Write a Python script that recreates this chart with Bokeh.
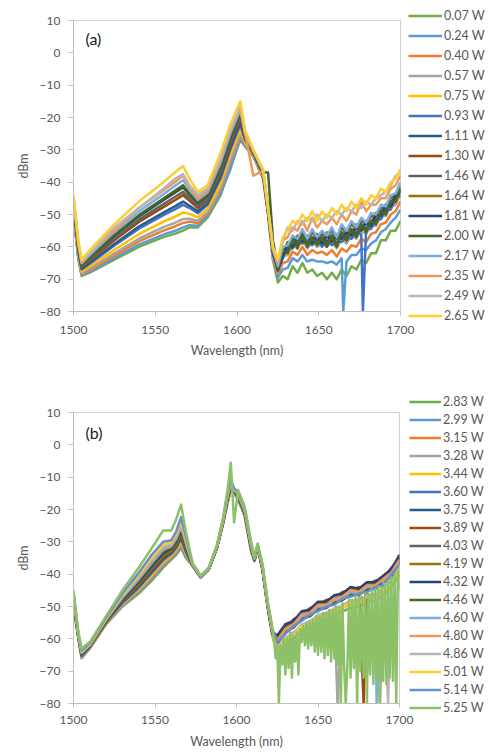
from bokeh.plotting import figure
from bokeh.models import Legend, LegendItem, Label, Range1d, FixedTicker
from bokeh.layouts import column
from bokeh.embed import file_html
from bokeh.resources import INLINE

FONT = "Lato"
TXT = "#595959"
AXIS = "#BFBFBF"

X_TICKS = [1500, 1550, 1600, 1650, 1700]
Y_TICKS = [-80, -70, -60, -50, -40, -30, -20, -10, 0, 10]

# ---------------- panel (a) ----------------
WL_A = [1500, 1503, 1505, 1510, 1525, 1540, 1555, 1562, 1567, 1571, 1576, 1582, 1590, 1596,
        1602, 1605, 1610, 1616, 1619, 1622,
        1625, 1628, 1631, 1634, 1637, 1640, 1643, 1646, 1649, 1652, 1655, 1658, 1661, 1664,
        1667, 1670, 1673, 1676, 1679, 1682, 1685, 1688, 1691, 1694, 1697, 1700]

LABELS_A = ["0.07 W", "0.24 W", "0.40 W", "0.57 W", "0.75 W", "0.93 W", "1.11 W", "1.30 W",
            "1.46 W", "1.64 W", "1.81 W", "2.00 W", "2.17 W", "2.35 W", "2.49 W", "2.65 W"]
COLORS_A = ["#70AD47", "#5B9BD5", "#ED7D31", "#A5A5A5", "#FFC000", "#4472C4", "#255E91", "#9E480E",
            "#636363", "#997300", "#264478", "#43682B", "#7CAFDD", "#F1975A", "#B7B7B7", "#FFCD33"]

A_007 = [-50, -64, -69, -68, -64, -60, -57, -56, -55, -54, -54, -51, -44, -35, -27, -29, -32, -39, -50, -64,
         -71, -69, -70, -66, -68, -65, -68, -67, -69, -68, -70, -68, -70, -67, -69, -66, -67, -64, -65, -62,
         -62, -58, -58, -55, -55, -52]
A_024 = [-49.7, -63.7, -68.8, -67.7, -63.5, -59.3, -56.2, -55.1, -54, -53.3, -53.5, -50.5, -43.4, -36, -26.4,
         -28.8, -31.9, -38.9, -49.9, -63.8,
         -69.5, -67, -66.5, -63.5, -64.5, -62.5, -64.5, -64, -64.5, -64.5, -65, -64.5, -65.5, -63.5, -64.5,
         -62.5, -62.5, -60.5, -61, -59, -58, -55.5, -54.5, -52.5, -51, -48.5]
A_040 = [-49.3, -63.3, -68.4, -67.2, -62.7, -58.3, -55, -53.7, -52.6, -52.2, -52.7, -49.8, -42.4, -33.4, -25.6,
         -28.4, -31.8, -38.6, -49.8, -63.5,
         -68.5, -65, -64.5, -61.5, -62.5, -60, -62.5, -61, -62, -61.5, -62.5, -61, -63, -60.5, -61.5, -59.5,
         -60, -57.5, -58.5, -56, -55.5, -53, -52.5, -50, -49, -46]
A_057 = [-48.9, -62.9, -68.1, -66.7, -62, -57.5, -53.9, -52.6, -51.4, -51.3, -52, -49.2, -41.7, -32.7, -24.8,
         -28.1, -31.6, -38.5, -49.6, -63.3,
         -68, -63, -62.5, -59.5, -60.5, -58, -60.5, -58.5, -60, -59, -60, -58.5, -60.5, -57.5, -59, -56.5,
         -57.5, -55, -56, -53.5, -53.5, -50.5, -50.5, -47.5, -47, -44]
A_075 = [-48.3, -62.3, -67.6, -66, -60.9, -56.1, -52.2, -50.7, -49.4, -49.8, -50.9, -48.2, -40.4, -31.4, -23.6,
         -27.6, -31.4, -38.2, -49.4, -62.9,
         -67, -63, -62, -60, -60, -58.5, -59.5, -58.5, -59.5, -58.5, -59.5, -58, -59.5, -57.5, -58, -56,
         -56.5, -55, -55, -53, -52.5, -50.5, -49.5, -47.5, -46, -43.5]
A_093 = [-47.6, -61.6, -67, -65.2, -59.6, -54.4, -50.2, -48.4, -47, -48, -49.6, -47, -38.8, -29.8, -22.2,
         -27, -31.2, -37.8, -49.2, -62.4,
         -67, -63.5, -60.5, -60.5, -58.5, -59, -58.5, -59.5, -58, -60, -58, -59.5, -58.5, -58.5, -57, -57.5,
         -55.5, -56, -54, -54.5, -51.5, -51.5, -48.5, -48.5, -45, -44]
A_111 = [-47.3, -61.3, -66.8, -64.9, -59.1, -53.7, -49.4, -47.5, -46, -47.3, -49, -46.5, -38.2, -29.2, -21.6,
         -26.8, -31.1, -37.7, -49.1, -62.2,
         -66.5, -62, -61, -58.5, -59, -57, -59, -57, -58.5, -57.5, -58.5, -56.5, -59, -56, -57, -55,
         -56, -53.5, -54.5, -52, -52, -49, -49, -46, -45.5, -42]
A_130 = [-46.7, -60.7, -66.3, -64.2, -58, -52.3, -47.7, -45.6, -44, -45.8, -48, -45.5, -36.9, -27.9, -20.4,
         -26.3, -30.9, -37.4, -48.9, -61.8,
         -67.5, -62, -61.5, -58.5, -59.5, -57, -59.5, -57.5, -59, -58, -59, -57, -59.5, -56, -58, -55,
         -56.5, -54, -55, -52.5, -52.5, -49.5, -49.5, -46.5, -46, -42.5]
A_146 = [-46.4, -60.4, -66, -63.8, -57.4, -51.6, -46.8, -44.6, -43, -45, -47.4, -45, -36.2, -27.2, -19.8,
         -26, -30.8, -37.2, -48.8, -61.6,
         -66.5, -61, -60, -57, -58, -55.5, -58, -55.5, -57.5, -56, -57, -55, -57.5, -54, -56, -53,
         -54.5, -52, -53, -50.5, -50.5, -48, -48, -45, -44, -41]
A_164 = [-46, -60, -65.7, -63.3, -56.6, -50.6, -45.6, -43.3, -41.6, -44, -46.6, -44.3, -35.3, -26.3, -19,
         -25.7, -30.7, -37, -48.7, -61.3,
         -66, -62.5, -58.5, -59, -56.5, -57.5, -56.5, -58, -56, -58.5, -55.5, -57.5, -56, -56.5, -54.5, -55.5,
         -53, -54.5, -52, -52.5, -49.5, -50, -47, -47, -43.5, -42.5]
A_181 = [-45.9, -59.9, -65.6, -63.2, -56.5, -50.5, -45.4, -43.1, -41.4, -43.8, -46.5, -44.2, -35.2, -26.2, -18.8,
         -25.6, -30.6, -37, -48.6, -61.3,
         -67, -63, -59, -60, -57, -58.5, -57, -59, -56.5, -59, -56.5, -58.5, -56.5, -57.5, -55.5, -56.5,
         -54, -55, -52.5, -53.5, -50, -50.5, -47, -47.5, -44, -43]
A_200 = [-45.8, -59.8, -65.5, -63.1, -56.3, -50.2, -45.1, -42.7, -41, -43.5, -46.3, -44, -34.9, -25.9, -18.6,
         -25.5, -30.6, -36.9, -37, -58,
         -67, -61, -62, -57, -60.5, -56, -60, -57, -59.5, -57, -60, -56.5, -60, -55.5, -58, -54.5,
         -57, -53, -55.5, -52, -53, -49, -50, -46, -46, -42]
A_217 = [-45.3, -59.3, -65.1, -62.5, -55.4, -49.1, -43.7, -41.2, -39.4, -42.3, -45.4, -43.2, -33.9, -24.9, -17.6,
         -25.1, -30.4, -36.7, -48.4, -60.9,
         -66, -60, -59.5, -56.5, -57.5, -54.5, -57.5, -54.5, -57, -55, -56.5, -54, -57, -53, -55, -52,
         -54, -51, -52.5, -49.5, -50, -47, -47.5, -44, -43.5, -40]
A_235 = [-45, -59, -65, -62, -55, -48, -42.5, -40, -38, -41.5, -45, -42.5, -33, -24, -17,
         -25, -38, -36.5, -48.3, -60.6,
         -65, -58, -57, -54, -55, -52, -55, -51, -54, -52, -53, -51, -53, -50, -52, -49,
         -50, -46, -49, -47, -47, -45, -45, -42, -41, -38]
A_249 = [-45, -59, -64.5, -62, -54, -48, -42, -39, -37.5, -41, -44, -42, -32.5, -23.5, -16.5,
         -25, -30, -36.5, -48, -60.5,
         -64.5, -58, -54, -55, -52, -53, -51, -52, -50, -52, -50, -51, -49, -50, -48, -49,
         -47, -48, -46, -47, -45, -44, -43, -41, -38, -37]
A_265 = [-44, -58, -64, -61, -53, -46, -40, -37, -35, -39, -43, -41, -31, -22, -15,
         -24, -30, -36, -48, -60,
         -64, -57, -55, -52, -53, -50, -52, -49, -52, -49, -51, -48, -50, -47, -49, -46,
         -48, -45, -47, -44, -45, -42, -43, -40, -39, -36]

SPIKES_A = {"0.24 W": [(1665, -80)], "0.93 W": [(1677, -80)]}

# ---------------- panel (b) ----------------
WL_B = [1500, 1503, 1505, 1510, 1520, 1530, 1540, 1548, 1555, 1560, 1563, 1566, 1569, 1573, 1578,
        1583, 1588, 1592, 1594.5, 1596.5, 1598.5, 1601, 1605, 1609, 1611, 1613, 1616, 1619, 1622,
        1625, 1630, 1635, 1640, 1645, 1650, 1655, 1660, 1665, 1670, 1675, 1680, 1685, 1690, 1695, 1700]
WL_B_SMOOTH = WL_B[:29]
WL_B_DENSE = list(range(1623, 1701))

LABELS_B = ["2.83 W", "2.99 W", "3.15 W", "3.28 W", "3.44 W", "3.60 W", "3.75 W", "3.89 W", "4.03 W",
            "4.19 W", "4.32 W", "4.46 W", "4.60 W", "4.80 W", "4.86 W", "5.01 W", "5.14 W", "5.25 W"]
COLORS_B = ["#70AD47", "#5B9BD5", "#ED7D31", "#A5A5A5", "#FFC000", "#4472C4", "#255E91", "#9E480E",
            "#636363", "#997300", "#264478", "#43682B", "#7CAFDD", "#F1975A", "#B7B7B7", "#FFCD33",
            "#698ED0", "#8CC168"]

B_283 = [-50, -60, -66, -63, -55.5, -50, -46, -42, -38, -35.5, -34, -32, -35, -37.5, -41, -38.5, -32, -24,
         -18, -14, -15, -17, -22, -33, -36, -32, -39, -50, -59,
         -65, -62, -60, -58, -56.5, -55, -54, -53, -51.5, -50.5, -50, -49, -48, -47, -44, -40]
B_299 = [-49.8, -59.9, -65.9, -62.9, -55.4, -49.8, -45.6, -41.5, -37.5, -35.1, -33.6, -31.4, -34.6, -37.5, -41,
         -38.5, -32, -23.9, -17.8, -13.8, -14.9, -16.9, -21.9, -32.9, -35.9, -31.9, -38.9, -49.9, -58.9,
         -61, -58, -56, -54, -52.5, -51, -50, -49, -47.5, -46.5, -46, -45, -44, -43, -40, -36]
B_315 = [-49.5, -59.8, -65.7, -62.8, -55.3, -49.5, -45.2, -41, -37, -34.8, -33.1, -30.8, -34.2, -37.4, -41,
         -38.5, -31.9, -23.8, -17.6, -13.6, -14.8, -16.7, -21.7, -32.7, -35.9, -31.9, -38.8, -49.8, -58.8,
         -61.5, -58, -56.5, -53.5, -53, -50.5, -50.5, -48.5, -48, -46, -46.5, -44.5, -44.5, -42.5, -40.5, -36.5]
B_328 = [-49.3, -59.7, -65.6, -62.7, -55.2, -49.3, -44.9, -40.6, -36.6, -34.5, -32.7, -30.3, -33.9, -37.4, -40.9,
         -38.4, -31.9, -23.7, -17.4, -13.4, -14.7, -16.6, -21.6, -32.6, -35.8, -31.8, -38.7, -49.7, -58.7,
         -63, -60, -58, -56, -54.5, -53, -52, -51, -49.5, -48.5, -48, -47, -46, -45, -42, -38]
B_344 = [-49.1, -59.6, -65.5, -62.6, -55.1, -49.1, -44.6, -40.2, -36.2, -34.2, -32.4, -29.8, -33.6, -37.3, -40.9,
         -38.4, -31.8, -23.6, -17.3, -13.3, -14.6, -16.5, -21.5, -32.5, -35.7, -31.7, -38.6, -49.6, -58.6,
         -64, -61, -59, -57, -55.5, -54, -53, -52, -50.5, -49.5, -49, -48, -47, -46, -43, -39]
B_360 = [-48.9, -59.5, -65.3, -62.5, -54.9, -48.9, -44.2, -39.7, -35.7, -33.8, -31.9, -29.2, -33.2, -37.3, -40.9,
         -38.4, -31.8, -23.5, -17.1, -13.1, -14.5, -16.3, -21.3, -32.3, -35.7, -31.7, -38.5, -49.5, -58.4,
         -60.5, -57.5, -55.5, -53.5, -52, -50.5, -49.5, -48.5, -47, -46, -45.5, -44.5, -43.5, -42.5, -39.5, -35.5]
B_375 = [-48.6, -59.4, -65.2, -62.4, -54.8, -48.6, -43.8, -39.2, -35.2, -33.4, -31.5, -28.6, -32.8, -37.2, -40.9,
         -38.4, -31.7, -23.4, -16.9, -12.9, -14.4, -16.2, -21.2, -32.2, -35.6, -31.6, -38.4, -49.4, -58.3,
         -60, -57, -55, -53, -51.5, -50, -49, -48, -46.5, -45.5, -45, -44, -43, -42, -39, -35]
B_389 = [-48.4, -59.4, -65, -62.4, -54.7, -48.4, -43.4, -38.8, -34.8, -33.1, -31.1, -28.2, -32.4, -37.2, -40.8,
         -38.3, -31.7, -23.4, -16.7, -12.7, -14.4, -16, -21, -32, -35.5, -31.5, -38.4, -49.4, -58.2,
         -59.5, -56.5, -54, -52.5, -50.5, -49.5, -48, -47.5, -45.5, -45, -44, -43.5, -42, -41.5, -38, -35]
B_403 = [-48.2, -59.3, -64.9, -62.3, -54.6, -48.2, -43, -38.3, -34.3, -32.7, -30.7, -27.6, -32, -37.1, -40.8,
         -38.3, -31.6, -23.3, -16.5, -12.5, -14.3, -15.9, -20.9, -31.9, -35.4, -31.4, -38.3, -49.3, -58.1,
         -61, -57.5, -56.5, -54, -52.5, -51, -50.5, -48.5, -47.5, -46.5, -46, -44.5, -44, -43, -40, -36]
B_419 = [-48, -59.2, -64.8, -62.2, -54.5, -48, -42.8, -38, -34, -32.5, -30.4, -27.2, -31.8, -37.1, -40.8,
         -38.3, -31.6, -23.2, -16.4, -12.4, -14.2, -15.8, -20.8, -31.8, -35.4, -31.4, -38.2, -49.2, -58,
         -60, -56, -55, -52, -51.5, -49, -49, -47, -46.5, -44.5, -45, -43, -43, -41, -39, -35]
B_432 = [-47.8, -59.1, -64.7, -62.1, -54.4, -47.8, -42.4, -37.5, -33.5, -32.1, -30, -26.6, -31.4, -37.1, -40.8,
         -38.3, -31.6, -23.1, -16.2, -12.2, -14.1, -15.7, -20.7, -31.7, -35.3, -31.3, -38.1, -49.1, -57.9,
         -59, -55.5, -54.5, -51.5, -51, -48.5, -48.5, -46.5, -46, -44, -44.5, -42.5, -42.5, -40.5, -38.5, -34]
B_446 = [-47.5, -59, -64.5, -62, -54.3, -47.5, -42, -37, -33, -31.8, -29.5, -26, -31, -37, -40.8,
         -38.3, -31.5, -23, -16, -12, -14, -15.5, -20.5, -31.5, -35.3, -31.3, -38, -49, -57.8,
         -61.5, -58, -56, -54, -53, -51, -50, -49, -48, -46.5, -46, -45, -44.5, -43, -40.5, -36]
B_460 = [-47.3, -58.9, -64.4, -61.9, -54.1, -47.3, -41.6, -36.5, -32.5, -31.4, -29.1, -25.4, -30.6, -37, -40.7,
         -38.2, -31.5, -22.9, -15.8, -11.8, -13.9, -15.4, -20.4, -31.4, -35.2, -31.2, -37.9, -48.9, -57.6,
         -61, -57, -56, -53, -52.5, -50, -50, -48, -47.5, -45.5, -46, -44, -44, -42, -40, -36]
B_480 = [-46.9, -58.8, -64.1, -61.8, -54, -46.9, -41, -35.8, -31.8, -30.9, -28.4, -24.6, -30, -36.9, -40.7,
         -38.2, -31.4, -22.8, -15.5, -11.5, -13.8, -15.1, -20.1, -31.1, -35.1, -31.1, -37.8, -48.8, -57.5,
         -60.5, -57, -55.5, -52.5, -52, -49.5, -49.5, -47.5, -47, -45, -45.5, -43.5, -43.5, -41.5, -39.5, -35.5]
B_486 = [-46.7, -58.7, -64, -61.7, -53.8, -46.7, -40.6, -35.3, -31.3, -30.5, -28, -24, -29.6, -36.8, -40.7,
         -38.2, -31.3, -22.7, -15.3, -11.3, -13.7, -15, -20, -31, -35, -31, -37.7, -48.7, -57.3,
         -63.5, -59.5, -58.5, -55.5, -55, -52.5, -52.5, -50.5, -50, -48, -48.5, -46.5, -46.5, -44.5, -42.5, -38]
B_501 = [-46.4, -58.6, -63.8, -61.6, -53.7, -46.4, -40.2, -34.8, -30.8, -30.1, -27.5, -23.4, -29.2, -36.8, -40.6,
         -38.1, -31.3, -22.6, -15.1, -11.1, -13.6, -14.8, -19.8, -30.8, -34.9, -30.9, -37.6, -48.6, -57.2,
         -64, -60, -59, -56, -55.5, -53, -53, -51, -50.5, -48.5, -49, -47, -47.5, -45, -43, -38.5]
B_514 = [-46, -58.4, -63.6, -61.4, -53.5, -46, -39.6, -34, -30, -29.5, -26.8, -22.4, -28.6, -36.7, -40.6,
         -38.1, -31.2, -22.4, -14.8, -10.8, -13.4, -14.6, -19.6, -30.6, -34.8, -30.8, -37.4, -48.4, -57,
         -61, -58.5, -56, -54.5, -52.5, -51.5, -50, -49.5, -47.5, -47, -46, -45.5, -44, -43.5, -40, -37]
B_525_SMOOTH = [-45, -58, -63, -61, -53, -45, -38, -32, -26.5, -26.5, -23, -18.5, -27, -36.5, -40.5,
                -38, -31, -22, -14, -5.5, -24, -14, -19, -30, -34.5, -30.5, -37, -48, -56.5]
B_525_NOISE = [-60, -66, -62, -80, -62, -68, -60, -71, -60, -69,
               -58, -72, -59, -67, -58, -71, -57, -61, -56, -62,
               -55, -63, -55, -62, -54, -64, -53, -65, -53, -64,
               -52, -66, -52, -65, -51, -67, -51, -66, -50, -68,
               -50, -80, -49, -68, -80, -69, -48, -72, -48, -69,
               -47, -80, -47, -70, -47, -72, -46, -80, -46, -71,
               -45, -74, -45, -72, -44, -80, -44, -73, -43, -74,
               -42, -72, -41, -73, -40, -80, -39, -45]

SPIKES_B = {"3.28 W": [(1662, -80), (1688, -80)], "3.89 W": [(1678, -80)],
            "4.60 W": [(1686, -80)], "4.86 W": [(1693, -80)]}


def build(series, labels, colors, spikes, tag, tag_xy, frame_w, borders, legend_loc,
          glyph_w, glyph_h, spacing, tick_standoff, title_standoff):
    left, right, top, bottom = borders
    p = figure(frame_width=frame_w, frame_height=291,
               min_border_left=left, min_border_right=right,
               min_border_top=top, min_border_bottom=bottom,
               x_range=Range1d(1500, 1700), y_range=Range1d(-80, 10),
               output_backend="svg", toolbar_location=None)
    p.xgrid.visible = False
    p.ygrid.visible = False
    p.outline_line_color = "#D0D0D0"
    p.outline_line_width = 1
    p.background_fill_color = "white"
    p.border_fill_color = "white"

    p.xaxis.ticker = FixedTicker(ticks=X_TICKS)
    p.yaxis.ticker = FixedTicker(ticks=Y_TICKS)
    p.axis.axis_line_color = AXIS
    p.axis.major_tick_line_color = AXIS
    p.axis.minor_tick_line_color = None
    p.axis.major_tick_in = 0
    p.xaxis.major_tick_out = 4
    p.yaxis.major_tick_out = 5
    p.axis.major_label_text_font = FONT
    p.axis.major_label_text_font_size = "12px"
    p.axis.major_label_text_color = TXT
    p.xaxis.major_label_standoff = tick_standoff
    p.yaxis.major_label_standoff = 8
    p.xaxis.axis_label = "Wavelength (nm)"
    p.yaxis.axis_label = "dBm"
    p.axis.axis_label_text_font = FONT
    p.axis.axis_label_text_font_size = "12.5px"
    p.axis.axis_label_text_font_style = "normal"
    p.axis.axis_label_text_color = TXT
    p.xaxis.axis_label_standoff = title_standoff
    p.yaxis.axis_label_standoff = 6

    items = []
    for (xs, ys), name, color in zip(series, labels, colors):
        pts = sorted(list(zip(xs, ys)) + spikes.get(name, []))
        r = p.line([q[0] for q in pts], [q[1] for q in pts], line_color=color,
                   line_width=2.5, line_join="round")
        items.append(LegendItem(label=name, renderers=[r]))

    legend = Legend(items=items, location=legend_loc, orientation="vertical",
                    glyph_width=glyph_w, glyph_height=glyph_h, label_height=glyph_h,
                    spacing=spacing, padding=0, margin=0, label_standoff=2,
                    border_line_color=None, background_fill_alpha=0,
                    label_text_font=FONT, label_text_font_size="12.5px",
                    label_text_color=TXT)
    p.add_layout(legend, "right")

    p.add_layout(Label(x=tag_xy[0], y=tag_xy[1], text=tag, text_font=FONT,
                       text_font_size="16px", text_baseline="middle",
                       text_align="left", text_color="#1a1a1a"))
    return p


SERIES_A = [A_007, A_024, A_040, A_057, A_075, A_093, A_111, A_130,
            A_146, A_164, A_181, A_200, A_217, A_235, A_249, A_265]
pa = build([(WL_A, s) for s in SERIES_A], LABELS_A, COLORS_A, SPIKES_A,
           "(a)", (1507.3, 4.3), 327, (73, 92, 20, 60), (8, -12.5),
           34, 17, 3, 10, 6)

SERIES_B = [B_283, B_299, B_315, B_328, B_344, B_360, B_375, B_389, B_403,
            B_419, B_432, B_446, B_460, B_480, B_486, B_501, B_514]
series_b = [(WL_B, s) for s in SERIES_B]
series_b.append((WL_B_SMOOTH + WL_B_DENSE, B_525_SMOOTH + B_525_NOISE))
pb = build(series_b, LABELS_B, COLORS_B, SPIKES_B,
           "(b)", (1507.4, 3.7), 326, (68, 98, 41, 50), (10, -12),
           32, 15, 3, 8, 7)

layout = column(pa, pb, spacing=0)
open("out.html", "w").write(file_html(layout, INLINE))
